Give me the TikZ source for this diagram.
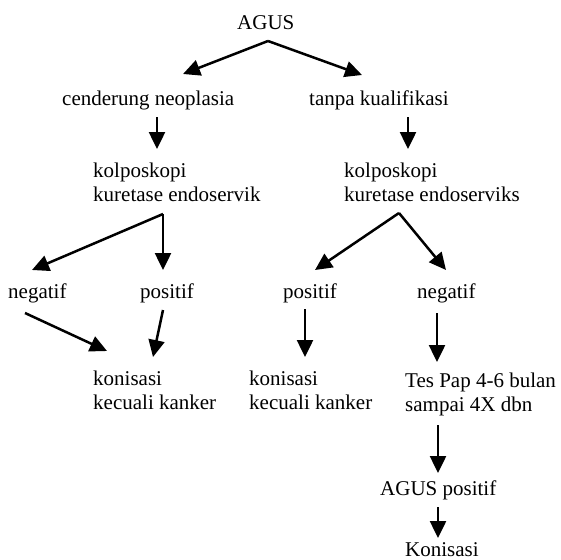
\documentclass[tikz,border=0pt]{standalone}
\usepackage{fontspec}
\setmainfont{Liberation Serif}
\usetikzlibrary{arrows.meta}
\newcommand{\twolines}[2]{\begin{tabular}[t]{@{}l@{}}#1\\#2\end{tabular}}
\begin{document}
\begin{tikzpicture}[x=1pt,y=-1pt,
  lbl/.style={anchor=base west,inner sep=0pt,font=\fontsize{21}{24}\selectfont},
  arr/.style={line width=2.5pt,-{Triangle[width=16pt,length=17pt]}}]
\useasboundingbox (0,0) rectangle (561,559);
% texts
\node[lbl] (agus) at (237,30) {AGUS};
\node[lbl] (cend) at (62,105) {cenderung neoplasia};
\node[lbl] (tanpa) at (309,105) {tanpa kualifikasi};
\node[lbl] (kolL) at (93,177) {\twolines{kolposkopi}{kuretase endoservik}};
\node[lbl] (kolR) at (344,177) {\twolines{kolposkopi}{kuretase endoserviks}};
\node[lbl] (negL) at (8,298) {negatif};
\node[lbl] (posL) at (140,298) {positif};
\node[lbl] (posR) at (283,298) {positif};
\node[lbl] (negR) at (417,298) {negatif};
\node[lbl] (konL) at (93,385) {\twolines{konisasi}{kecuali kanker}};
\node[lbl] (konR) at (249,385) {\twolines{konisasi}{kecuali kanker}};
\node[lbl] (tes) at (405,387) {\twolines{Tes Pap 4-6 bulan}{sampai 4X dbn}};
\node[lbl] (aguspos) at (380,495) {AGUS positif};
\node[lbl] (konfin) at (405,556) {Konisasi};
% connector end points
\coordinate (agusS) at (268,41);
\coordinate (cendN) at (183,74);
\coordinate (tanpaN) at (362,75);
\coordinate (cendS) at (157,117);
\coordinate (kolLN) at (157,149);
\coordinate (tanpaS) at (408,117);
\coordinate (kolRN) at (408,149);
\coordinate (kolLS) at (163,214);
\coordinate (negLN) at (32,270);
\coordinate (posLN) at (163,270);
\coordinate (kolRS) at (399,213);
\coordinate (posRN) at (315,270);
\coordinate (negRN) at (446,270);
\coordinate (negLS) at (25,313);
\coordinate (konLa) at (107,351);
\coordinate (posLS) at (163,310);
\coordinate (konLb) at (153,357);
\coordinate (posRS) at (305,309);
\coordinate (konRN) at (305,357);
\coordinate (negRS) at (437,313);
\coordinate (tesN) at (437,362);
\coordinate (tesS) at (438,425);
\coordinate (agusposN) at (438,473);
\coordinate (agusposS) at (438,507);
\coordinate (konfinN) at (438,538);
% connectors
\draw[arr] (agusS) -- (cendN);
\draw[arr] (agusS) -- (tanpaN);
\draw[arr] (cendS) -- (kolLN);
\draw[arr] (tanpaS) -- (kolRN);
\draw[arr] (kolLS) -- (negLN);
\draw[arr] (kolLS) -- (posLN);
\draw[arr] (kolRS) -- (posRN);
\draw[arr] (kolRS) -- (negRN);
\draw[arr] (negLS) -- (konLa);
\draw[arr] (posLS) -- (konLb);
\draw[arr] (posRS) -- (konRN);
\draw[arr] (negRS) -- (tesN);
\draw[arr] (tesS) -- (agusposN);
\draw[arr] (agusposS) -- (konfinN);
\end{tikzpicture}
\end{document}
